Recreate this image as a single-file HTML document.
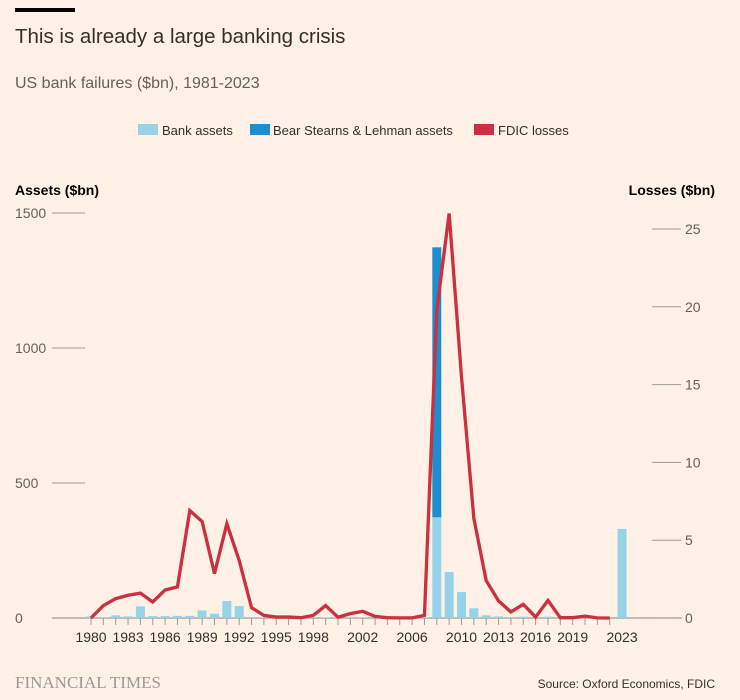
<!DOCTYPE html>
<html><head><meta charset="utf-8"><style>
body{margin:0;background:#fff1e5;}
svg{display:block;font-family:"Liberation Sans",sans-serif;}
</style></head><body>
<svg id="c" width="740" height="700" viewBox="0 0 740 700">
<rect x="0" y="0" width="740" height="700" fill="#fff1e5"/>
<rect x="15" y="8" width="60" height="4" fill="#000"/>
<text x="15" y="43" font-size="20.5" fill="#33302e">This is already a large banking crisis</text>
<text x="15" y="88" font-size="16" fill="#66605c">US bank failures ($bn), 1981-2023</text>
<g font-size="13" fill="#33302e">
<rect x="138" y="124" width="20" height="11" fill="#96d3e8"/>
<text x="162" y="135">Bank assets</text>
<rect x="250" y="124" width="20" height="11" fill="#1f8ecf"/>
<text x="273" y="135">Bear Stearns &amp; Lehman assets</text>
<rect x="474" y="124" width="20" height="11" fill="#cc2f3f"/>
<text x="498" y="135">FDIC losses</text>
</g>
<text x="15" y="195" font-size="14" font-weight="bold" fill="#000">Assets ($bn)</text>
<text x="715" y="195" font-size="14" font-weight="bold" fill="#000" text-anchor="end">Losses ($bn)</text>
<g id="axes"></g>
<g id="bars"></g>
<g id="line"></g>
<text x="15" y="688" font-size="17" fill="#999" font-family="Liberation Serif,serif">FINANCIAL TIMES</text>
<text x="715" y="688" font-size="12" fill="#33302e" text-anchor="end">Source: Oxford Economics, FDIC</text>
</svg>
<script>
const years=[1980,1981,1982,1983,1984,1985,1986,1987,1988,1989,1990,1991,1992,1993,1994,1995,1996,1997,1998,1999,2000,2001,2002,2003,2004,2005,2006,2007,2008,2009,2010,2011,2012,2013,2014,2015,2016,2017,2018,2019,2020,2021,2022,2023];
const bankAssets=[6,3,10,6,43,7,7,8,8,28,16,63,44,3,2,1,1,1,1,2,1,2,2,1,1,0,0,2,373,170,96,36,10,6,1,5,1,5,1,1,1,0,0,330];
const bearLehman=[0,0,0,0,0,0,0,0,0,0,0,0,0,0,0,0,0,0,0,0,0,0,0,0,0,0,0,0,1000,0,0,0,0,0,0,0,0,0,0,0,0,0,0,0];
const lossYears=[1980,1981,1982,1983,1984,1985,1986,1987,1988,1989,1990,1991,1992,1993,1994,1995,1996,1997,1998,1999,2000,2001,2002,2003,2004,2005,2006,2007,2008,2009,2010,2011,2012,2013,2014,2015,2016,2017,2018,2019,2020,2021,2022];
const losses=[0,0.8,1.24,1.46,1.6,1.03,1.8,2.0,6.9,6.2,2.85,6.06,3.7,0.66,0.17,0.06,0.06,0.02,0.17,0.8,0.05,0.28,0.43,0.1,0.02,0.01,0.01,0.17,19.8,26,15.5,6.4,2.4,1.1,0.39,0.88,0.06,1.13,0.02,0.02,0.12,0.01,0];
const xLabels=[1980,1983,1986,1989,1992,1995,1998,2002,2006,2010,2013,2016,2019,2023];
const leftTicks=[0,500,1000,1500];
const rightTicks=[0,5,10,15,20,25];
const NS="http://www.w3.org/2000/svg";
const x=y=>91+(y-1980)*12.35;
const yL=v=>618-v*0.27;
const yR=v=>618-v*15.56;
function mk(t,a,p){const e=document.createElementNS(NS,t);for(const k in a)e.setAttribute(k,a[k]);p.appendChild(e);return e;}
const ax=document.getElementById('axes');
leftTicks.forEach(v=>{
  const l=mk('line',{x1:52,x2:85,y1:yL(v),y2:yL(v),stroke:'#a09a95','stroke-width':1},ax);
  
  
  const t=mk('text',{x:15,y:yL(v)+5,'font-size':14,fill:'#66605c'},ax);t.textContent=v;
  
  
});
rightTicks.forEach(v=>{
  if(v>0){const l=mk('line',{x1:652,x2:681,y1:yR(v),y2:yR(v),stroke:'#a09a95','stroke-width':1},ax);
  
  }
  const t=mk('text',{x:685,y:yR(v)+5,'font-size':14,fill:'#66605c'},ax);t.textContent=v;
  
  
});
const base=mk('line',{x1:52,x2:682,y1:618,y2:618,stroke:'#a09a95','stroke-width':1.2},ax);


for(let yr=1980;yr<=2022;yr++){
  const tk=mk('line',{x1:x(yr),x2:x(yr),y1:618,y2:625,stroke:'#a09a95','stroke-width':1},ax);
  
  
}
xLabels.forEach(yr=>{
  const t=mk('text',{x:x(yr),y:642,'font-size':14,fill:'#33302e','text-anchor':'middle'},ax);t.textContent=yr;
  
  
});
const bg=document.getElementById('bars');
years.forEach((yr,i)=>{
  const a=bankAssets[i],b=bearLehman[i];
  if(a>0){const r=mk('rect',{x:x(yr)-4.5,y:yL(a),width:9,height:618-yL(a),fill:'#96d3e8'},bg);
  
  }
  if(b>0){const r=mk('rect',{x:x(yr)-4.5,y:yL(a+b),width:9,height:yL(a)-yL(a+b),fill:'#1f8ecf'},bg);
  
  }
});
const pts=lossYears.map((yr,i)=>x(yr)+','+yR(losses[i])).join(' ');
const pl=mk('polyline',{points:pts,fill:'none',stroke:'#cc2f3f','stroke-width':3.3,'stroke-linejoin':'miter'},document.getElementById('line'));


</script>
</body></html>
